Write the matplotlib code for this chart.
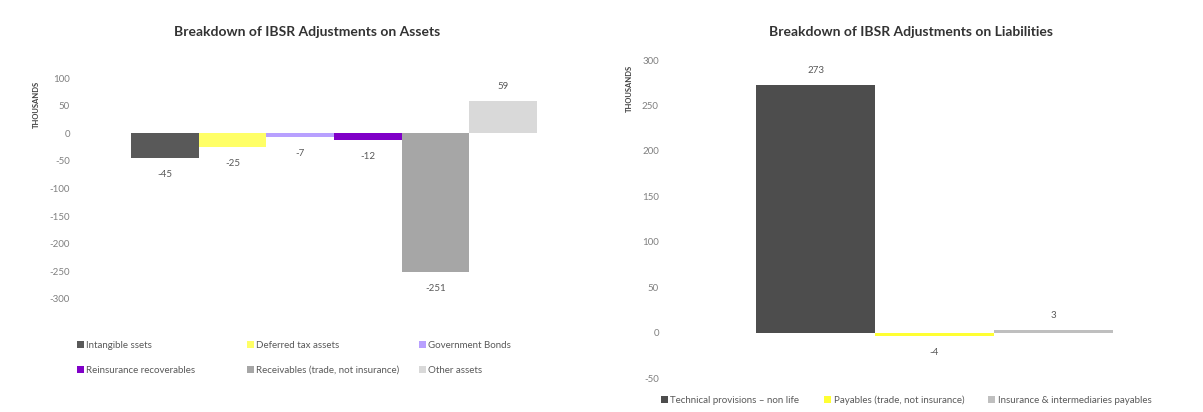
import matplotlib
matplotlib.use('Agg')
import matplotlib.pyplot as plt
from matplotlib.patches import Patch

plt.rcParams['font.family'] = ['Lato', 'DejaVu Sans']

# data
asset_labels = ['Intangible ssets', 'Deferred tax assets', 'Government Bonds',
                'Reinsurance recoverables', 'Receivables (trade, not insurance)', 'Other assets']
asset_values = [-45, -25, -7, -12, -251, 59]
asset_colors = ['#595959', '#ffff66', '#b8a0ff', '#8000c8', '#a6a6a6', '#d9d9d9']

liab_labels = ['Technical provisions \u2013 non life', 'Payables (trade, not insurance)',
               'Insurance & intermediaries payables']
liab_values = [273, -4, 3]
liab_colors = ['#4d4d4d', '#ffff33', '#bfbfbf']

asset_ticks = [100, 50, 0, -50, -100, -150, -200, -250, -300]
liab_ticks = [300, 250, 200, 150, 100, 50, 0, -50]

TICK_C = '#808080'
TITLE_C = '#333333'
W, H = 1203, 412

fig = plt.figure(figsize=(W / 100, H / 100), dpi=100)
fig.patch.set_facecolor('white')


def style(ax, ticks, pad, ylab_x, ylab_y):
    ax.set_yticks(ticks)
    ax.set_yticklabels([str(t) for t in ticks])
    ax.set_xticks([])
    for s in ax.spines.values():
        s.set_visible(False)
    ax.tick_params(axis='y', length=0, pad=pad, labelsize=7, labelcolor=TICK_C)
    ax.set_ylabel('THOUSANDS', fontsize=5.5, fontweight='bold', color='#404040')
    ax.yaxis.set_label_coords(ylab_x, ylab_y)


# assets panel
ax1 = fig.add_axes([131 / W, 1 - 299 / H, 406 / W, 221 / H])
x1 = range(len(asset_values))
ax1.bar(x1, asset_values, width=1.0, color=asset_colors, edgecolor='none')
ax1.set_xlim(-0.5, len(asset_values) - 0.5)
ax1.set_ylim(-300, 100)
style(ax1, asset_ticks, 44, -0.225, 0.88)
for i, v in enumerate(asset_values):
    ax1.annotate(str(v), (i, v), xytext=(0, 10 if v > 0 else -12), textcoords='offset points',
                 ha='center', va='center', fontsize=7, color='#595959')
fig.text(307 / W, 1 - 32 / H, 'Breakdown of IBSR Adjustments on Assets',
         ha='center', va='center', fontsize=10, fontweight='bold', color=TITLE_C)

# legend laid out as a 3 x 2 grid, one legend per column
col_x = [68, 238, 410]
for c in range(3):
    idx = [c, c + 3]
    hs = [Patch(facecolor=asset_colors[i], edgecolor='none') for i in idx]
    fig.legend(hs, [asset_labels[i] for i in idx], loc='center left',
               bbox_to_anchor=(col_x[c] / W, 1 - 358 / H), ncol=1, frameon=False,
               fontsize=7, labelcolor='#595959', handlelength=0.7, handleheight=0.7,
               handletextpad=0.3, labelspacing=1.6)

# liabilities panel
ax2 = fig.add_axes([756 / W, 1 - 378 / H, 357 / W, 318 / H])
x2 = range(len(liab_values))
ax2.bar(x2, liab_values, width=1.0, color=liab_colors, edgecolor='none')
ax2.set_xlim(-0.5, len(liab_values) - 0.5)
ax2.set_ylim(-50, 300)
style(ax2, liab_ticks, 70, -0.345, 0.91)
for i, v in enumerate(liab_values):
    ax2.annotate(str(v), (i, v), xytext=(0, 10 if v > 0 else -12), textcoords='offset points',
                 ha='center', va='center', fontsize=7, color='#595959')
fig.text(911 / W, 1 - 32 / H, 'Breakdown of IBSR Adjustments on Liabilities',
         ha='center', va='center', fontsize=10, fontweight='bold', color=TITLE_C)

h2 = [Patch(facecolor=c, edgecolor='none') for c in liab_colors]
fig.legend(h2, liab_labels, loc='center left', bbox_to_anchor=(652 / W, 1 - 400 / H),
           ncol=3, frameon=False, fontsize=7, labelcolor='#595959', handlelength=0.7,
           handleheight=0.7, handletextpad=0.3, columnspacing=2.5)

fig.savefig('out.png', dpi=100, facecolor='white')
